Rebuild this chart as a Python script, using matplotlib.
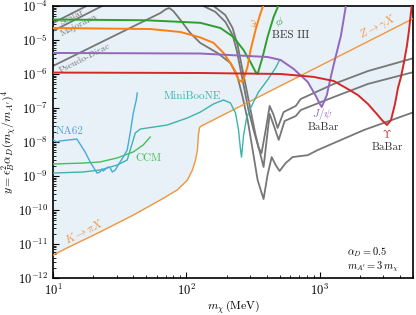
import numpy as np
import matplotlib
matplotlib.use("Agg")
import matplotlib.pyplot as plt

plt.rcParams["font.family"] = "serif"
plt.rcParams["font.serif"] = ["cmr10"]
plt.rcParams["mathtext.fontset"] = "cm"
plt.rcParams["axes.formatter.use_mathtext"] = True

# ---- data (m_chi in MeV, y) ----
# BES III, phi resonance
phi_m = [10, 50, 127, 180, 225, 268, 303, 330, 342, 373, 406, 451, 492, 515]
phi_y = [4.0e-5, 3.8e-5, 3.2e-5, 2.25e-5, 1.23e-5, 5.1e-6, 2.2e-6, 1.15e-6, 1.0e-6,
         3.2e-6, 1.23e-5, 4.8e-5, 1.07e-4, 1.3e-4]
# BES III, omega resonance
omega_m = [10, 53.6, 90, 127, 160, 190, 214, 234, 246, 264, 287, 303, 330, 360, 379, 393]
omega_y = [2.25e-5, 2.1e-5, 1.72e-5, 1.19e-5, 8.2e-6, 4.15e-6, 2.1e-6, 1.15e-6, 6.7e-7,
           5.8e-7, 1.6e-6, 5.1e-6, 1.97e-5, 6.2e-5, 1.07e-4, 1.3e-4]
# BaBar J/psi
jpsi_m = [10, 127, 406, 509, 638, 813, 934, 1000, 1035, 1130, 1210, 1297, 1366, 1439,
          1490, 1542, 1585]
jpsi_y = [4.15e-6, 4.0e-6, 3.16e-6, 2.58e-6, 1.4e-6, 5.8e-7, 2.25e-7, 1.31e-7, 1.07e-7,
          2.4e-7, 8.2e-7, 2.58e-6, 5.8e-6, 1.31e-5, 2.95e-5, 6.7e-5, 1.23e-4]
# BaBar Upsilon
ups_m = [10, 127, 509, 902, 1274, 1625, 1932, 2297, 2638, 2926, 3190, 3419, 3664, 3858,
         4064, 4283, 4512, 4670, 4833, 4918]
ups_y = [1.1e-6, 1.07e-6, 1.0e-6, 8.2e-7, 6.2e-7, 3.6e-7, 2.4e-7, 1.31e-7, 7.1e-8,
         4.4e-8, 3.16e-8, 4.4e-8, 1.31e-7, 3.9e-7, 8.2e-7, 2.25e-6, 7.1e-6, 1.97e-5,
         6.7e-5, 1.23e-4]
# K -> pi X joined to Z -> gamma X
kz_m = [10, 12.7, 22.5, 40, 63.8, 85.5, 101.8, 111, 117, 121, 123, 125.3, 127.4, 5090]
kz_y = [4.7e-12, 7.6e-12, 2.25e-11, 7.1e-11, 1.97e-10, 3.9e-10, 7.6e-10, 1.5e-9, 2.95e-9,
        5.8e-9, 1.6e-8, 2.6e-8, 2.86e-8, 4.4e-5]
# MiniBooNE
mb_m = [10, 16.8, 22.5, 30.3, 36, 37.9, 41.4, 45.1, 71.9, 101.8, 127.4, 159.6, 189.6, 214,
        233.6, 246, 254.7, 259, 268.5, 282.7, 302.8, 347.5, 406, 466, 500]
mb_y = [1.22e-9, 1.31e-9, 1.5e-9, 2.1e-9, 2.96e-9, 5.8e-9, 1.84e-8, 2.4e-8, 3.16e-8,
        5.1e-8, 7.6e-8, 1.31e-7, 1.72e-7, 1.4e-7, 7.1e-8, 2.25e-8, 5.8e-9, 3.6e-9,
        1.6e-8, 5.1e-8, 1.0e-7, 2.96e-7, 6.7e-7, 1.5e-6, 2.58e-6]
# CCM
ccm_m = [10, 16.8, 22.5, 30.3, 40, 47.5, 53.6]
ccm_y = [2.25e-9, 2.4e-9, 2.58e-9, 3.4e-9, 5.1e-9, 8.2e-9, 1.4e-8]
# NA62
na62_m = [10, 10.7, 11.3, 15.1, 17.4, 19.0, 20.7, 21.4, 22.5, 23.3, 23.8, 25.9, 26.9,
          27.8, 29.3, 30.8, 33.6, 36, 37.9, 40, 42.1, 42.8]
na62_y = [1.15e-8, 1.0e-8, 1.07e-8, 1.22e-8, 5.1e-9, 2.58e-9, 1.5e-9, 1.22e-9, 1.31e-9,
          1.6e-9, 1.4e-9, 1.84e-9, 1.72e-9, 1.31e-9, 1.5e-9, 2.1e-9, 3.6e-9, 5.8e-9,
          1.84e-8, 7.1e-8, 1.72e-7, 2.76e-7]
# thermal relic targets
scalar_m = [10, 20, 123, 134, 165, 196, 222, 238, 255, 273, 292, 319, 348, 366, 393, 421,
            451, 483, 536, 661, 720, 1274, 2297, 5090]
scalar_y = [3.16e-5, 1.26e-4, 1.31e-4, 1.0e-4, 6.7e-5, 3.4e-5, 1.4e-5, 5.1e-6, 1.31e-6,
            3.4e-7, 8.7e-8, 2.25e-8, 6.7e-9, 4.7e-9, 2.25e-8, 1.15e-7, 6.2e-8, 2.58e-8,
            7.6e-8, 1.15e-7, 1.84e-7, 5.1e-7, 1.22e-6, 2.95e-6]
major_m = [10, 30, 146, 160, 196, 222, 242, 259, 278, 303, 330, 360, 379, 400, 421, 459,
           492, 545, 661, 720, 1274, 2297, 5090]
major_y = [1.84e-5, 1.65e-4, 1.31e-4, 1.0e-4, 5.4e-5, 2.25e-5, 7.1e-6, 1.84e-6, 4.7e-7,
           8.7e-8, 1.6e-8, 4.1e-9, 1.84e-9, 1.15e-8, 6.7e-8, 2.58e-8, 1.15e-8, 4.15e-8,
           5.8e-8, 8.7e-8, 2.1e-7, 5.1e-7, 1.15e-6]
pdirac_m = [10, 63.8, 70.8, 74.5, 79.8, 90.2, 107, 127, 171, 214, 242, 264, 288, 314, 342,
            379, 406, 436, 467, 500, 555, 626, 813, 966, 1274, 2143, 5090]
pdirac_y = [1.72e-6, 6.2e-5, 8.2e-5, 8.7e-5, 7.1e-5, 3.9e-5, 1.6e-5, 8.2e-6, 4.15e-6,
            2.1e-6, 8.2e-7, 2.1e-7, 4.4e-8, 5.8e-9, 7.6e-10, 2.1e-10, 1.07e-9, 3.6e-9,
            2.1e-9, 1.4e-9, 2.4e-9, 3.6e-9, 4.1e-9, 5.8e-9, 9.3e-9, 2.25e-8, 7.6e-8]

fig = plt.figure(figsize=(4.16, 3.15), dpi=100)
ax = fig.add_axes([0.1274, 0.1175, 0.8654, 0.8635])
ax.set_xscale("log")
ax.set_yscale("log")
ax.set_xlim(10, 5000)
ax.set_ylim(1e-12, 1e-4)

# excluded region: above the lowest of the K/Z, J/psi and Upsilon bounds
grid = np.logspace(1, np.log10(5000), 1500)
def logi(m, y):
    return 10 ** np.interp(np.log10(grid), np.log10(m), np.log10(y), right=0.0)
lower = np.minimum(np.minimum(logi(kz_m, kz_y), logi(jpsi_m, jpsi_y)), logi(ups_m, ups_y))
ax.fill_between(grid, lower, 1e-3, color="tab:blue", alpha=0.1, lw=0, zorder=0)

gray = "#777777"
for m, y in [(scalar_m, scalar_y), (major_m, major_y), (pdirac_m, pdirac_y)]:
    ax.plot(m, y, color=gray, lw=1.3, zorder=2)

ax.plot(kz_m, kz_y, color="#f0963c", lw=1.0, zorder=3)
ax.plot(mb_m, mb_y, color="#3cb4aa", lw=1.0, zorder=3)
ax.plot(ccm_m, ccm_y, color="#46be5a", lw=1.0, zorder=3)
ax.plot(na62_m, na62_y, color="#46aadc", lw=1.0, zorder=3)
ax.plot(phi_m, phi_y, color="#2ca02c", lw=1.4, zorder=4)
ax.plot(omega_m, omega_y, color="#ff7f0e", lw=1.4, zorder=4)
ax.plot(jpsi_m, jpsi_y, color="#9467bd", lw=1.4, zorder=4)
ax.plot(ups_m, ups_y, color="#d62728", lw=1.4, zorder=4)

# labels
ax.text(13.9, 4.8e-5, "Scalar", color=gray, fontsize=7, rotation=27, ha="center", va="center")
ax.text(15.7, 2.8e-5, "Majorana", color=gray, fontsize=7, rotation=27, ha="center", va="center")
ax.text(17.4, 2.95e-6, "Pseudo-Dirac", color=gray, fontsize=7, rotation=27, ha="center", va="center")
ax.text(606, 1.4e-5, "BES III", color="#333333", fontsize=8, ha="center", va="center")
ax.text(500, 3.4e-5, r"$\phi$", color="#2ca02c", fontsize=8, ha="center", va="center")
ax.text(324, 3.2e-5, r"$\omega$", color="#ff7f0e", fontsize=8, rotation=80, ha="center", va="center")
ax.text(1054, 6.8e-8, r"$J/\psi$", color="#9467bd", fontsize=8, ha="center", va="center")
ax.text(1054, 2.7e-8, "BaBar", color="#333333", fontsize=8, ha="center", va="center")
ax.text(3190, 1.7e-8, r"$\Upsilon$", color="#d62728", fontsize=8, ha="center", va="center")
ax.text(3190, 7.0e-9, "BaBar", color="#333333", fontsize=8, ha="center", va="center")
ax.text(111, 2.2e-7, "MiniBooNE", color="#3cb4aa", fontsize=8, ha="center", va="center")
ax.text(13.4, 2.1e-8, "NA62", color="#46aadc", fontsize=8, ha="center", va="center")
ax.text(51.8, 3.4e-9, "CCM", color="#46be5a", fontsize=8, ha="center", va="center")
ax.text(17.1, 2.4e-11, r"$K\to\pi X$", color="#f0963c", fontsize=8, rotation=27, ha="center", va="center")
ax.text(2730, 2.4e-5, r"$Z\to\gamma X$", color="#f0963c", fontsize=8, rotation=27, ha="center", va="center")
ax.text(0.818, 0.095, r"$\alpha_D = 0.5$", transform=ax.transAxes, fontsize=7.5, va="center")
ax.text(0.818, 0.04, r"$m_{A^\prime} = 3\,m_\chi$", transform=ax.transAxes, fontsize=7.5, va="center")

ax.set_xlabel(r"$m_\chi\,(\mathrm{MeV})$", fontsize=8.5, labelpad=1)
ax.set_ylabel(r"$y = \epsilon_B^2\alpha_D(m_\chi/m_{A^\prime})^4$", fontsize=8.5, labelpad=0)
ax.set_yticks([10.0 ** k for k in range(-12, -3)])
ax.tick_params(which="both", direction="in", labelsize=9)
ax.tick_params(which="major", length=4)
ax.tick_params(which="minor", length=2)
for s in ax.spines.values():
    s.set_linewidth(1.2)

fig.savefig("out.png", dpi=100)
